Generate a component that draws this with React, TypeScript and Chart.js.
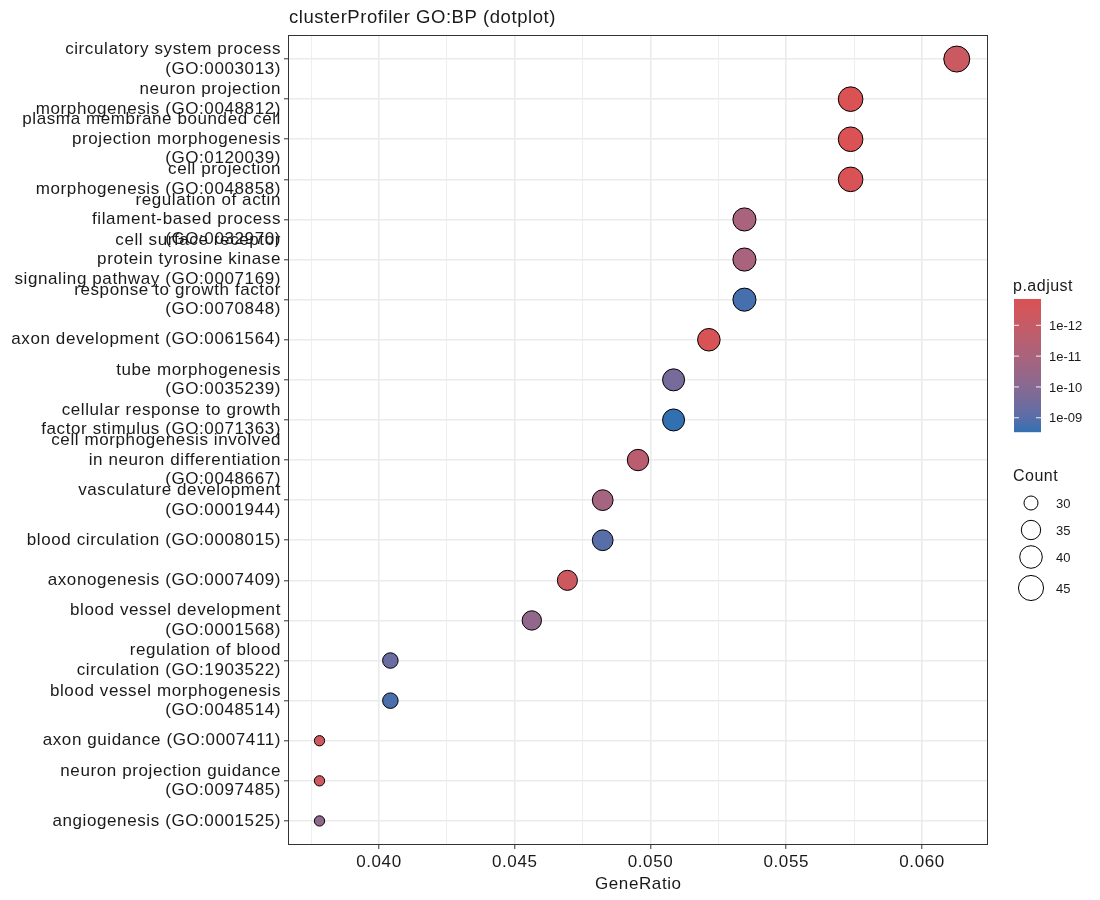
import React, { useEffect, useRef } from "react";
import { Chart, registerables } from "chart.js";

Chart.register(...registerables);

const termLabels: string[] = [
  "circulatory system process\n(GO:0003013)",
  "neuron projection\nmorphogenesis (GO:0048812)",
  "plasma membrane bounded cell\nprojection morphogenesis\n(GO:0120039)",
  "cell projection\nmorphogenesis (GO:0048858)",
  "regulation of actin\nfilament-based process\n(GO:0032970)",
  "cell surface receptor\nprotein tyrosine kinase\nsignaling pathway (GO:0007169)",
  "response to growth factor\n(GO:0070848)",
  "axon development (GO:0061564)",
  "tube morphogenesis\n(GO:0035239)",
  "cellular response to growth\nfactor stimulus (GO:0071363)",
  "cell morphogenesis involved\nin neuron differentiation\n(GO:0048667)",
  "vasculature development\n(GO:0001944)",
  "blood circulation (GO:0008015)",
  "axonogenesis (GO:0007409)",
  "blood vessel development\n(GO:0001568)",
  "regulation of blood\ncirculation (GO:1903522)",
  "blood vessel morphogenesis\n(GO:0048514)",
  "axon guidance (GO:0007411)",
  "neuron projection guidance\n(GO:0097485)",
  "angiogenesis (GO:0001525)",
];

const geneRatio: number[] = [
  0.06128, 0.05737, 0.05737, 0.05737, 0.05346, 0.05346, 0.05346, 0.05215,
  0.05085, 0.05085, 0.04954, 0.04824, 0.04824, 0.04694, 0.04563, 0.04042,
  0.04042, 0.03781, 0.03781, 0.03781,
];

const counts: number[] = [
  47, 44, 44, 44, 41, 41, 41, 40, 39, 39, 38, 37, 37, 36, 35, 31, 31, 29, 29, 29,
];

const pAdjust: number[] = [
  6.3e-13, 1.4e-13, 1.4e-13, 1.5e-13, 1.0e-11, 1.0e-11, 1.8e-9, 1.8e-13,
  2.5e-10, 2.9e-9, 2.5e-12, 1.3e-11, 1.0e-9, 5.0e-13, 5.0e-11, 5.0e-10,
  1.6e-9, 4.0e-13, 4.0e-13, 6.0e-11,
];

const colorbarTicks: number[] = [1e-12, 1e-11, 1e-10, 1e-9];
const colorbarTickLabels: string[] = ["1e-12", "1e-11", "1e-10", "1e-09"];
const sizeLegendCounts: number[] = [30, 35, 40, 45];

const LOW_COLOR = "#DA5254";
const HIGH_COLOR = "#3270B2";
const FONT = "'Liberation Sans', Arial, Helvetica, sans-serif";
const TEXT = "#1a1a1a";

// ---------- colour helpers (Lab interpolation like ggplot) ----------
function hexToRgb(h: string): number[] {
  const s = h.replace("#", "");
  return [0, 2, 4].map((i) => parseInt(s.slice(i, i + 2), 16));
}
function toLin(c: number) {
  c /= 255;
  return c <= 0.04045 ? c / 12.92 : Math.pow((c + 0.055) / 1.055, 2.4);
}
function fromLin(c: number) {
  const v = c <= 0.0031308 ? 12.92 * c : 1.055 * Math.pow(c, 1 / 2.4) - 0.055;
  return Math.round(Math.min(1, Math.max(0, v)) * 255);
}
const XN = 0.95047, YN = 1, ZN = 1.08883;
function rgbToLab(rgb: number[]): number[] {
  const [R, G, B] = rgb.map(toLin);
  const X = (R * 0.4124 + G * 0.3576 + B * 0.1805) / XN;
  const Y = (R * 0.2126 + G * 0.7152 + B * 0.0722) / YN;
  const Z = (R * 0.0193 + G * 0.1192 + B * 0.9505) / ZN;
  const f = (t: number) => (t > 0.008856 ? Math.cbrt(t) : 7.787 * t + 16 / 116);
  const fx = f(X), fy = f(Y), fz = f(Z);
  return [116 * fy - 16, 500 * (fx - fy), 200 * (fy - fz)];
}
function labToRgb(lab: number[]): number[] {
  const [L, a, b] = lab;
  const fy = (L + 16) / 116;
  const fx = fy + a / 500;
  const fz = fy - b / 200;
  const inv = (t: number) => (t > 0.206893 ? t * t * t : (t - 16 / 116) / 7.787);
  const X = inv(fx) * XN, Y = inv(fy) * YN, Z = inv(fz) * ZN;
  const R = X * 3.2406 + Y * -1.5372 + Z * -0.4986;
  const G = X * -0.9689 + Y * 1.8758 + Z * 0.0415;
  const B = X * 0.0557 + Y * -0.204 + Z * 1.057;
  return [fromLin(R), fromLin(G), fromLin(B)];
}
const LAB_LOW = rgbToLab(hexToRgb(LOW_COLOR));
const LAB_HIGH = rgbToLab(hexToRgb(HIGH_COLOR));
const logVals = pAdjust.map((p) => Math.log10(p));
const LOG_MIN = Math.min(...logVals);
const LOG_MAX = Math.max(...logVals);
function colorAtT(t: number): string {
  const lab = LAB_LOW.map((v, i) => v + (LAB_HIGH[i] - v) * t);
  const [r, g, b] = labToRgb(lab);
  return `rgb(${r},${g},${b})`;
}
function colorFor(p: number): string {
  return colorAtT((Math.log10(p) - LOG_MIN) / (LOG_MAX - LOG_MIN));
}

// ---------- size helper (ggplot area scale, range 3..8) ----------
const C_MIN = Math.min(...counts);
const C_MAX = Math.max(...counts);
function radiusFor(c: number): number {
  const t = Math.max(0, (c - C_MIN) / (C_MAX - C_MIN));
  const size = 3 + 5 * Math.sqrt(t);
  return 1.57 * size + 0.44;
}

const isMajor = (v: number) => Math.abs(v / 0.005 - Math.round(v / 0.005)) < 1e-6;

const spacingPlugin = {
  id: "spacing",
  beforeDraw(chart: any) {
    (chart.ctx as any).letterSpacing = "0.6px";
  },
};

const decorPlugin = {
  id: "decor",
  afterDraw(chart: any) {
    const ctx = chart.ctx as any;
    const area = chart.chartArea;
    ctx.save();
    // panel border
    ctx.strokeStyle = "#333333";
    ctx.lineWidth = 1;
    ctx.strokeRect(area.left + 0.5, area.top + 0.5, area.right - area.left - 1, area.bottom - area.top - 1);

    // title
    ctx.fillStyle = TEXT;
    ctx.letterSpacing = "0.55px";
    ctx.font = `18.5px ${FONT}`;
    ctx.textAlign = "left";
    ctx.textBaseline = "alphabetic";
    ctx.fillText("clusterProfiler GO:BP (dotplot)", 289, 23);

    // x title
    ctx.letterSpacing = "0.6px";
    ctx.font = `17px ${FONT}`;
    ctx.textAlign = "center";
    ctx.fillText("GeneRatio", (area.left + area.right) / 2 + 0.3, 889);

    // colour bar legend
    const bx = 1014, bw = 27, by0 = 299, by1 = 432;
    ctx.textAlign = "left";
    ctx.letterSpacing = "0.5px";
    ctx.font = `16px ${FONT}`;
    ctx.fillText("p.adjust", 1013, 291);
    const n = by1 - by0;
    for (let i = 0; i < n; i++) {
      ctx.fillStyle = colorAtT((i + 0.5) / n);
      ctx.fillRect(bx, by0 + i, bw, 1.2);
    }
    ctx.letterSpacing = "0px";
    ctx.font = `13px ${FONT}`;
    ctx.textBaseline = "middle";
    colorbarTicks.forEach((tv, i) => {
      const t = (Math.log10(tv) - LOG_MIN) / (LOG_MAX - LOG_MIN);
      const y = by0 + t * (by1 - by0);
      ctx.strokeStyle = "rgba(255,255,255,0.9)";
      ctx.lineWidth = 1;
      ctx.beginPath();
      ctx.moveTo(bx, y);
      ctx.lineTo(bx + 5, y);
      ctx.moveTo(bx + bw - 5, y);
      ctx.lineTo(bx + bw, y);
      ctx.stroke();
      ctx.fillStyle = TEXT;
      ctx.fillText(colorbarTickLabels[i], 1049, y + 1);
    });

    // size legend
    ctx.textBaseline = "alphabetic";
    ctx.letterSpacing = "0.5px";
    ctx.font = `16px ${FONT}`;
    ctx.fillStyle = TEXT;
    ctx.fillText("Count", 1013, 481);
    const ys = [503, 530, 557, 588];
    ctx.letterSpacing = "0px";
    ctx.font = `13px ${FONT}`;
    ctx.textBaseline = "middle";
    sizeLegendCounts.forEach((c, i) => {
      const r = radiusFor(c);
      ctx.beginPath();
      ctx.arc(1031, ys[i], r, 0, Math.PI * 2);
      ctx.fillStyle = "#ffffff";
      ctx.fill();
      ctx.strokeStyle = "#000000";
      ctx.lineWidth = 1;
      ctx.stroke();
      ctx.fillStyle = TEXT;
      ctx.fillText(String(c), 1056, ys[i] + 1);
    });
    ctx.restore();
  },
};

export default function App() {
  const ref = useRef<HTMLCanvasElement | null>(null);
  useEffect(() => {
    if (!ref.current) return;
    const chart = new Chart(ref.current, {
      type: "scatter",
      data: {
        datasets: [
          {
            data: geneRatio.map((x, i) => ({ x, y: i + 1 })),
            backgroundColor: pAdjust.map(colorFor),
            borderColor: "#000000",
            borderWidth: 1,
            pointRadius: counts.map(radiusFor),
            pointHoverRadius: counts.map(radiusFor),
          },
        ],
      },
      options: {
        animation: false,
        responsive: false,
        events: [],
        layout: { padding: { left: 0, top: 35, right: 112, bottom: 0 } },
        plugins: { legend: { display: false }, tooltip: { enabled: false }, title: { display: false } },
        scales: {
          x: {
            type: "linear",
            min: 0.03665,
            max: 0.06243,
            afterFit: (s: any) => {
              s.height = 55;
            },
            ticks: {
              stepSize: 0.0025,
              includeBounds: false,
              autoSkip: false,
              maxRotation: 0,
              padding: 3,
              color: TEXT,
              font: { family: FONT, size: 17 },
              callback: (v: any) => (isMajor(Number(v)) ? Number(v).toFixed(3) : ""),
            },
            grid: {
              color: "#EBEBEB",
              lineWidth: (c: any) => (c.tick && isMajor(c.tick.value) ? 1.6 : 0.8),
              tickLength: 4,
              tickWidth: 1,
              tickColor: (c: any) => (c.tick && isMajor(c.tick.value) ? "#333333" : "rgba(0,0,0,0)"),
            },
            border: { display: false },
          },
          y: {
            type: "linear",
            reverse: true,
            min: 0.4,
            max: 20.6,
            afterFit: (s: any) => {
              s.width = 288;
            },
            ticks: {
              stepSize: 1,
              includeBounds: false,
              autoSkip: false,
              padding: 3,
              color: TEXT,
              font: { family: FONT, size: 17, lineHeight: 1.15 },
              callback: (v: any) => {
                const n = Number(v);
                if (Number.isInteger(n) && n >= 1 && n <= termLabels.length) {
                  return termLabels[n - 1].split("\n");
                }
                return "";
              },
            },
            grid: {
              color: "#EBEBEB",
              lineWidth: 1.6,
              tickLength: 4,
              tickWidth: 1,
              tickColor: "#333333",
            },
            border: { display: false },
          },
        },
      },
      plugins: [spacingPlugin, decorPlugin],
    } as any);
    return () => chart.destroy();
  }, []);
  return (
    <div style={{ position: "absolute", left: 0, top: 0, width: 1100, height: 900, background: "#ffffff" }}>
      <canvas ref={ref} width={1100} height={900} style={{ display: "block" }} />
    </div>
  );
}
